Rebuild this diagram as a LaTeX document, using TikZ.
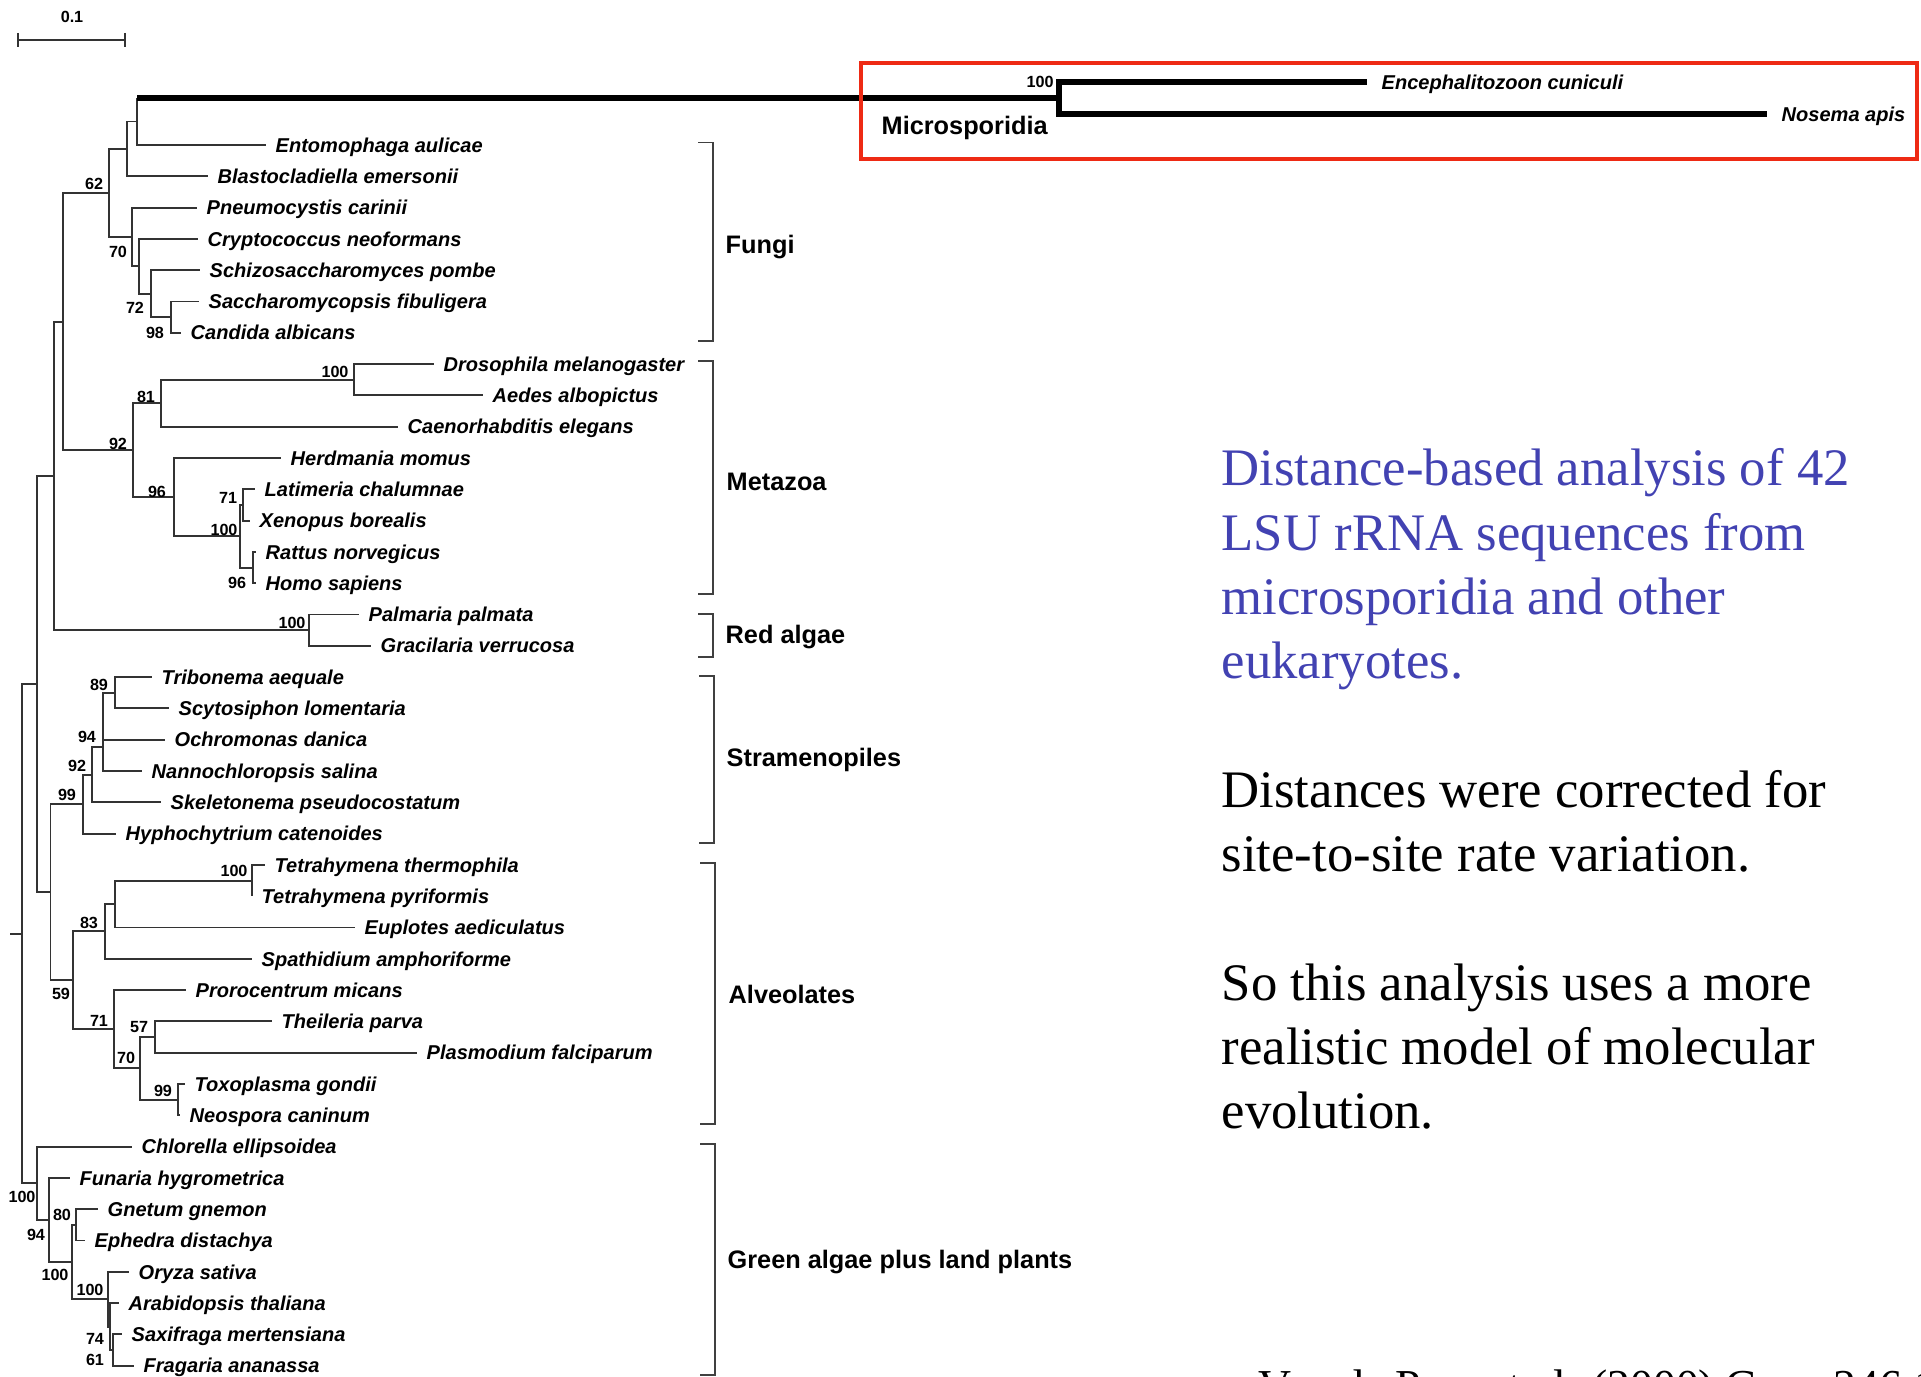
\documentclass[tikz,border=0pt]{standalone}
\usepackage{fontspec}
\setmainfont{Liberation Serif}
\setsansfont{Liberation Sans}
\definecolor{slideblue}{RGB}{66,66,178}
\definecolor{boxred}{RGB}{238,42,20}
\newcommand{\taxfont}{\sffamily\bfseries\itshape\fontsize{5.7}{6}\selectfont}
\newcommand{\bootfont}{\sffamily\bfseries\fontsize{4.6}{5}\selectfont}
\newcommand{\cladefont}{\sffamily\bfseries\fontsize{7.2}{8}\selectfont}
\newcommand{\slidefont}{\rmfamily\fontsize{15}{18.3}\selectfont}

\begin{document}
\begin{tikzpicture}[x=0.1mm, y=-0.1mm,
    branch/.style={black!80, line width=0.55pt},
    microbranch/.style={black, line width=1.7pt},
    taxon/.style={anchor=west, inner xsep=0.9mm, inner ysep=0pt, text height=4.1pt, text depth=0pt, font=\taxfont},
    boot/.style={inner sep=0pt, font=\bootfont},
    clade/.style={anchor=west, inner sep=0pt, text height=5.2pt, text depth=0pt, font=\cladefont},
    bracket/.style={black!75, line width=0.55pt},
    slideline/.style={anchor=base west, inner sep=0pt, font=\slidefont}]

    \useasboundingbox (0,0) rectangle (1921,1377);

    \node[taxon] (entomophaga) at (266,145.0) {Entomophaga aulicae};
    \node[taxon] (blastocladiella) at (208,176.3) {Blastocladiella emersonii};
    \node[taxon] (pneumocystis) at (197,207.6) {Pneumocystis carinii};
    \node[taxon] (cryptococcus) at (198,238.9) {Cryptococcus neoformans};
    \node[taxon] (schizosaccharomyces) at (200,270.2) {Schizosaccharomyces pombe};
    \node[taxon] (saccharomycopsis) at (199,301.5) {Saccharomycopsis fibuligera};
    \node[taxon] (candida) at (181,332.8) {Candida albicans};
    \node[taxon] (drosophila) at (434,364.1) {Drosophila melanogaster};
    \node[taxon] (aedes) at (483,395.4) {Aedes albopictus};
    \node[taxon] (caenorhabditis) at (398,426.7) {Caenorhabditis elegans};
    \node[taxon] (herdmania) at (281,458.0) {Herdmania momus};
    \node[taxon] (latimeria) at (255,489.3) {Latimeria chalumnae};
    \node[taxon] (xenopus) at (250,520.6) {Xenopus borealis};
    \node[taxon] (rattus) at (256,551.9) {Rattus norvegicus};
    \node[taxon] (homo) at (256,583.2) {Homo sapiens};
    \node[taxon] (palmaria) at (359,614.5) {Palmaria palmata};
    \node[taxon] (gracilaria) at (371,645.8) {Gracilaria verrucosa};
    \node[taxon] (tribonema) at (152,677.1) {Tribonema aequale};
    \node[taxon] (scytosiphon) at (169,708.4) {Scytosiphon lomentaria};
    \node[taxon] (ochromonas) at (165,739.7) {Ochromonas danica};
    \node[taxon] (nannochloropsis) at (142,771.0) {Nannochloropsis salina};
    \node[taxon] (skeletonema) at (161,802.3) {Skeletonema pseudocostatum};
    \node[taxon] (hyphochytrium) at (116,833.6) {Hyphochytrium catenoides};
    \node[taxon] (tetthermophila) at (265,864.9) {Tetrahymena thermophila};
    \node[taxon] (tetpyriformis) at (252,896.2) {Tetrahymena pyriformis};
    \node[taxon] (euplotes) at (355,927.5) {Euplotes aediculatus};
    \node[taxon] (spathidium) at (252,958.8) {Spathidium amphoriforme};
    \node[taxon] (prorocentrum) at (186,990.1) {Prorocentrum micans};
    \node[taxon] (theileria) at (272,1021.4) {Theileria parva};
    \node[taxon] (plasmodium) at (417,1052.7) {Plasmodium falciparum};
    \node[taxon] (toxoplasma) at (185,1084.0) {Toxoplasma gondii};
    \node[taxon] (neospora) at (180,1115.3) {Neospora caninum};
    \node[taxon] (chlorella) at (132,1146.6) {Chlorella ellipsoidea};
    \node[taxon] (funaria) at (70,1177.9) {Funaria hygrometrica};
    \node[taxon] (gnetum) at (98,1209.2) {Gnetum gnemon};
    \node[taxon] (ephedra) at (85,1240.5) {Ephedra distachya};
    \node[taxon] (oryza) at (129,1271.8) {Oryza sativa};
    \node[taxon] (arabidopsis) at (119,1303.1) {Arabidopsis thaliana};
    \node[taxon] (saxifraga) at (122,1334.4) {Saxifraga mertensiana};
    \node[taxon] (fragaria) at (134,1365.7) {Fragaria ananassa};
    \node[taxon, inner xsep=1.4mm] (encephalitozoon) at (1367,82) {Encephalitozoon cuniculi};
    \node[taxon, inner xsep=1.4mm] (nosema) at (1767,114) {Nosema apis};

    \coordinate (rootstub) at (10,933.7);
    \coordinate (root) at (22,933.7);
    \coordinate (crown) at (37,684.1);
    \coordinate (fmr) at (54,475.9);
    \coordinate (fm) at (63,321.6);
    \coordinate (n62) at (109,193);
    \coordinate (eb) at (127,148.7);
    \coordinate (mic) at (137,121.5);
    \coordinate (micstem) at (137,98);
    \coordinate (micro100) at (1059,98);
    \coordinate (n70f) at (132,237);
    \coordinate (crypt) at (139,266.3);
    \coordinate (n72) at (151,293.7);
    \coordinate (n98) at (171,317.2);
    \coordinate (n92m) at (133,450.2);
    \coordinate (n81) at (161,403.2);
    \coordinate (insects) at (354,379.8);
    \coordinate (n96m) at (174,497.2);
    \coordinate (vert) at (240,536.3);
    \coordinate (n71m) at (243,505);
    \coordinate (mammals) at (253,567.6);
    \coordinate (red) at (309,630.2);
    \coordinate (sa) at (50.5,892.3);
    \coordinate (n99s) at (83,804.2);
    \coordinate (n92s) at (92,774.7);
    \coordinate (n94s) at (103,747);
    \coordinate (n89) at (115,692.8);
    \coordinate (n59) at (73,980.3);
    \coordinate (n83) at (105,931.4);
    \coordinate (cil) at (115,904);
    \coordinate (tet) at (252,880.6);
    \coordinate (n71a) at (114,1029.2);
    \coordinate (n70a) at (140,1068.3);
    \coordinate (n57) at (155,1037);
    \coordinate (n99a) at (178,1099.7);
    \coordinate (green) at (37,1183.3);
    \coordinate (n94g) at (49,1220);
    \coordinate (seed) at (72,1262);
    \coordinate (n80) at (76,1224.9);
    \coordinate (ang) at (108,1299.2);
    \coordinate (n61) at (110,1326.6);
    \coordinate (n74) at (113,1350);

    \draw[branch] (rootstub) -- (root) (root) |- (crown) (root) |- (green);
    \draw[branch] (crown) |- (fmr) (crown) |- (sa);
    \draw[branch] (fmr) |- (fm) (fmr) |- (red);
    \draw[branch] (fm) |- (n62) (fm) |- (n92m);
    \draw[branch] (n62) |- (eb) (n62) |- (n70f);
    \draw[branch] (eb) |- (mic) (eb) |- (blastocladiella.west);
    \draw[branch] (mic) -- (micstem) (mic) |- (entomophaga.west);
    \draw[microbranch] (micstem) -- (micro100);
    \draw[microbranch] (micro100) |- (encephalitozoon.west) (micro100) |- (nosema.west);
    \draw[branch] (n70f) |- (pneumocystis.west) (n70f) |- (crypt);
    \draw[branch] (crypt) |- (cryptococcus.west) (crypt) |- (n72);
    \draw[branch] (n72) |- (schizosaccharomyces.west) (n72) |- (n98);
    \draw[branch] (n98) |- (saccharomycopsis.west) (n98) |- (candida.west);
    \draw[branch] (n92m) |- (n81) (n92m) |- (n96m);
    \draw[branch] (n81) |- (insects) (n81) |- (caenorhabditis.west);
    \draw[branch] (insects) |- (drosophila.west) (insects) |- (aedes.west);
    \draw[branch] (n96m) |- (herdmania.west) (n96m) |- (vert);
    \draw[branch] (vert) |- (n71m) (vert) |- (mammals);
    \draw[branch] (n71m) |- (latimeria.west) (n71m) |- (xenopus.west);
    \draw[branch] (mammals) |- (rattus.west) (mammals) |- (homo.west);
    \draw[branch] (red) |- (palmaria.west) (red) |- (gracilaria.west);
    \draw[branch] (sa) |- (n99s) (sa) |- (n59);
    \draw[branch] (n99s) |- (n92s) (n99s) |- (hyphochytrium.west);
    \draw[branch] (n92s) |- (n94s) (n92s) |- (skeletonema.west);
    \draw[branch] (n94s) |- (n89) (n94s) |- (ochromonas.west) (n94s) |- (nannochloropsis.west);
    \draw[branch] (n89) |- (tribonema.west) (n89) |- (scytosiphon.west);
    \draw[branch] (n59) |- (n83) (n59) |- (n71a);
    \draw[branch] (n83) |- (cil) (n83) |- (spathidium.west);
    \draw[branch] (cil) |- (tet) (cil) |- (euplotes.west);
    \draw[branch] (tet) |- (tetthermophila.west) (tet) |- (tetpyriformis.west);
    \draw[branch] (n71a) |- (prorocentrum.west) (n71a) |- (n70a);
    \draw[branch] (n70a) |- (n57) (n70a) |- (n99a);
    \draw[branch] (n57) |- (theileria.west) (n57) |- (plasmodium.west);
    \draw[branch] (n99a) |- (toxoplasma.west) (n99a) |- (neospora.west);
    \draw[branch] (green) |- (chlorella.west) (green) |- (n94g);
    \draw[branch] (n94g) |- (funaria.west) (n94g) |- (seed);
    \draw[branch] (seed) |- (n80) (seed) |- (ang);
    \draw[branch] (n80) |- (gnetum.west) (n80) |- (ephedra.west);
    \draw[branch] (ang) |- (oryza.west) (ang) |- (n61);
    \draw[branch] (n61) |- (arabidopsis.west) (n61) |- (n74);
    \draw[branch] (n74) |- (saxifraga.west) (n74) |- (fragaria.west);

    \node[boot] (bs62) at (94,184) {62};
    \node[boot] (bs70f) at (118,252) {70};
    \node[boot] (bs72) at (135,308) {72};
    \node[boot] (bs98) at (155,333) {98};
    \node[boot] (bs100i) at (335,372) {100};
    \node[boot] (bs81) at (146,397) {81};
    \node[boot] (bs92m) at (118,444) {92};
    \node[boot] (bs96m) at (157,492) {96};
    \node[boot] (bs71m) at (228,498) {71};
    \node[boot] (bs100v) at (224,530) {100};
    \node[boot] (bs96r) at (237,583) {96};
    \node[boot] (bs100r) at (292,623) {100};
    \node[boot] (bs89) at (99,685) {89};
    \node[boot] (bs94s) at (87,737) {94};
    \node[boot] (bs92s) at (77,766) {92};
    \node[boot] (bs99s) at (67,795) {99};
    \node[boot] (bs100t) at (234,871) {100};
    \node[boot] (bs83) at (89,923) {83};
    \node[boot] (bs59) at (61,994) {59};
    \node[boot] (bs71a) at (99,1021) {71};
    \node[boot] (bs57) at (139,1027) {57};
    \node[boot] (bs70a) at (126,1058) {70};
    \node[boot] (bs99a) at (163,1091) {99};
    \node[boot] (bs100g) at (22,1197) {100};
    \node[boot] (bs80) at (62,1215) {80};
    \node[boot] (bs94g) at (36,1235) {94};
    \node[boot] (bs100s) at (55,1275) {100};
    \node[boot] (bs100a) at (90,1290) {100};
    \node[boot] (bs74) at (95,1339) {74};
    \node[boot] (bs61) at (95,1360) {61};
    \node[boot] (bs100mic) at (1040,82) {100};

    \coordinate (scaleL) at (18,40);
    \coordinate (scaleR) at (125,40);
    \draw[branch] (scaleL) -- (scaleR) (scaleL) ++(0,-7) -- ++(0,14) (scaleR) ++(0,-7) -- ++(0,14);
    \node[boot] (scalelabel) at (72,17) {0.1};

    \draw[bracket] (698,142.5) -| (713,341) -- (698,341);
    \draw[bracket] (698,361) -| (713,594) -- (698,594);
    \draw[bracket] (698,614) -| (713,657) -- (698,657);
    \draw[bracket] (699,676) -| (714,843) -- (699,843);
    \draw[bracket] (700,863) -| (715,1124) -- (700,1124);
    \draw[bracket] (700,1144) -| (715,1375) -- (700,1375);

    \node[clade] (fungi) at (725,244.5) {Fungi};
    \node[clade] (metazoa) at (726,481) {Metazoa};
    \node[clade] (redalgae) at (725,634) {Red algae};
    \node[clade] (stramenopiles) at (726,757) {Stramenopiles};
    \node[clade] (alveolates) at (728,994) {Alveolates};
    \node[clade] (greenplants) at (727,1259) {Green algae plus land plants};

    \draw[boxred, line width=0.9pt] (861,63) rectangle (1917,159);
    \node[clade] (microsporidia) at (881,125) {Microsporidia};

    \node[slideline, text=slideblue] (blue1) at (1221,486) {Distance-based analysis of 42};
    \node[slideline, text=slideblue] (blue2) at (1221,550.3) {LSU rRNA sequences from};
    \node[slideline, text=slideblue] (blue3) at (1221,614.6) {microsporidia and other};
    \node[slideline, text=slideblue] (blue4) at (1221,678.9) {eukaryotes.};
    \node[slideline] (corr1) at (1221,807.5) {Distances were corrected for};
    \node[slideline] (corr2) at (1221,871.8) {site-to-site rate variation.};
    \node[slideline] (model1) at (1221,1000.4) {So this analysis uses a more};
    \node[slideline] (model2) at (1221,1064.7) {realistic model of molecular};
    \node[slideline] (model3) at (1221,1129) {evolution.};
    \node[anchor=base west, inner sep=0pt, font=\rmfamily\fontsize{13}{15}\selectfont] (citation) at (1258,1401) {Van de Peer et al. (2000) Gene 246:1--8};
\end{tikzpicture}
\end{document}
